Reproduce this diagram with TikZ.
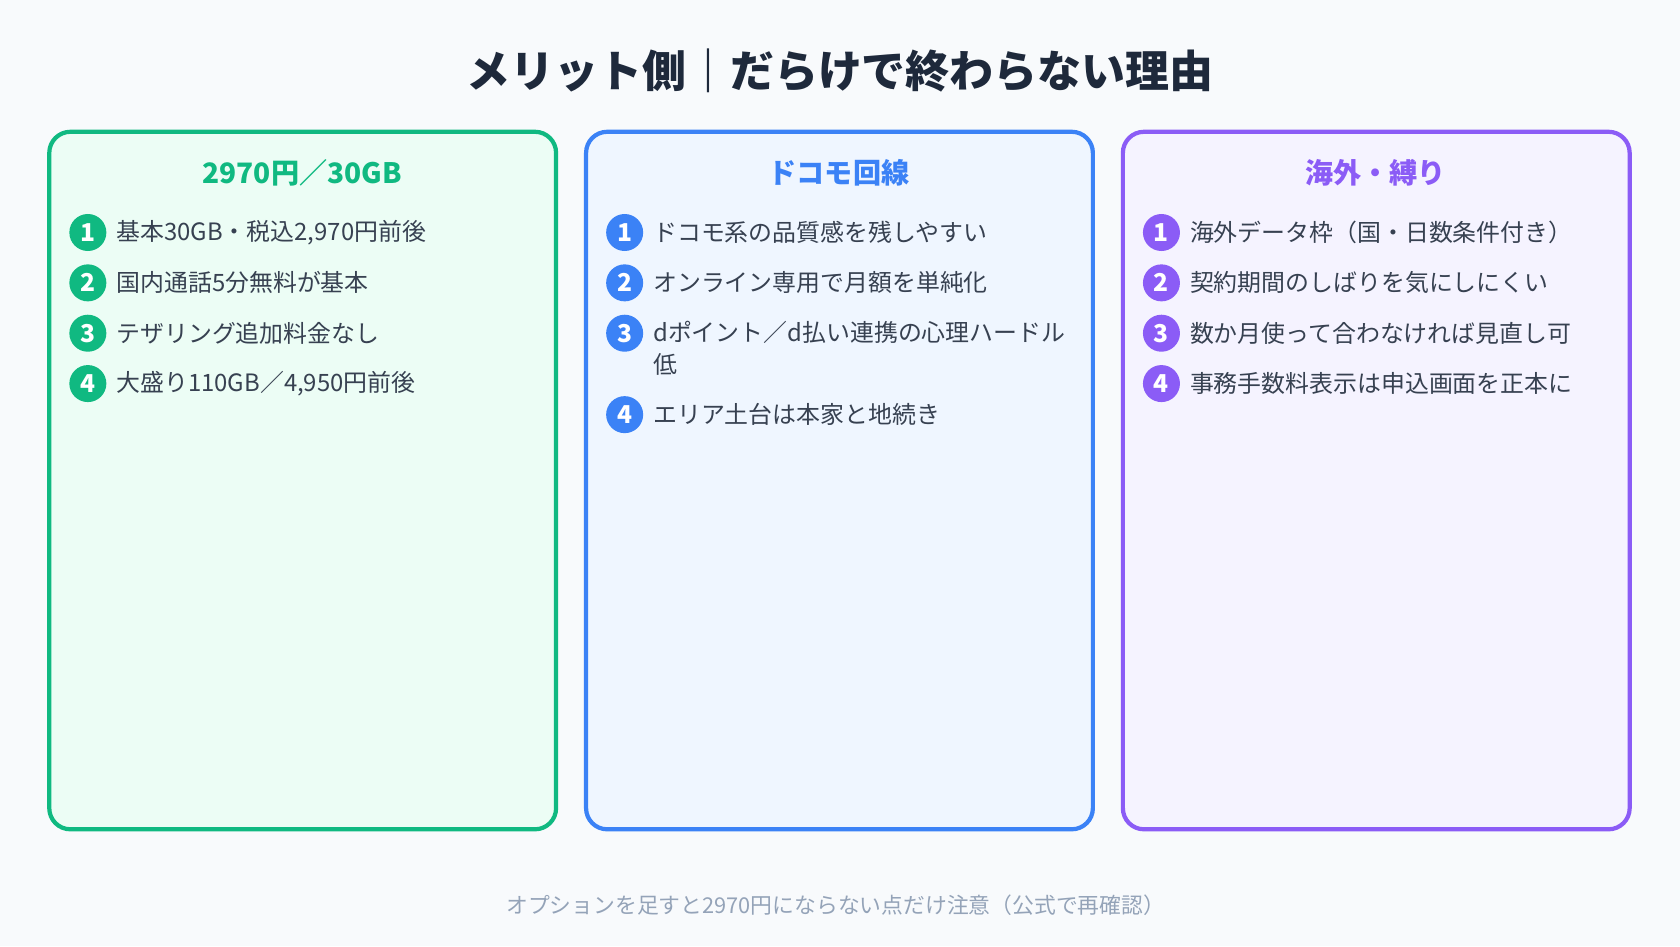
\documentclass[tikz,border=0pt]{standalone}
\usepackage{fontspec}
\setmainfont{Noto Sans CJK JP}
\usepackage{xcolor}
\usetikzlibrary{backgrounds,calc,positioning}
\definecolor{bgcol}{HTML}{F8FAFC}
\definecolor{titlecol}{HTML}{1E293B}
\definecolor{bodycol}{HTML}{374151}
\definecolor{notecol}{HTML}{94A3B8}
\definecolor{grn}{HTML}{10B981}\definecolor{grnfill}{HTML}{ECFDF5}
\definecolor{blu}{HTML}{3B82F6}\definecolor{blufill}{HTML}{EFF6FF}
\definecolor{pur}{HTML}{8B5CF6}\definecolor{purfill}{HTML}{F5F3FF}
\begin{document}
\begin{tikzpicture}[x=0.010714cm,y=-0.010714cm]

\tikzstyle{panel} = [rounded corners=6pt, line width=1.2pt]
\tikzstyle{head} = [font=\fontsize{8}{10}\selectfont\bfseries]
\tikzstyle{numdot} = [circle, minimum size=0.37cm, inner sep=0pt, text=white, font=\fontsize{7}{8}\selectfont\bfseries]
\tikzstyle{item} = [anchor=west, inner sep=0pt, text=bodycol, align=left, font=\fontsize{6.8}{9.2}\selectfont]

\fill[bgcol] (0,0) rectangle (1568,883);
\useasboundingbox (0,0) rectangle (1568,883);

\node (title) [text=titlecol, font=\fontsize{12.5}{14}\selectfont\bfseries] at (784,66) {メリット側｜だらけで終わらない理由};

% panels
\draw[panel, draw=grn, fill=grnfill] (46,123) rectangle (519,774);
\draw[panel, draw=blu, fill=blufill] (547,123) rectangle (1020,774);
\draw[panel, draw=pur, fill=purfill] (1048,123) rectangle (1521,774);

\node (h1) [head, text=grn] at (282,161) {2970円／30GB};
\node (h2) [head, text=blu] at (783,161) {ドコモ回線};
\node (h3) [head, text=pur] at (1284,161) {海外・縛り};

% items
\foreach \n/\y/\t in {1/217/{基本30GB・税込2,970円前後}, 2/264/{国内通話5分無料が基本},
  3/311/{テザリング追加料金なし}, 4/358/{大盛り110GB／4,950円前後}} {
  \node (ga\n) [numdot, fill=grn] at (82,\y) {\n};
  \node (gt\n) [item] at (108,\y) {\t};
}
\foreach \n/\d/\y/\t in {1/217/217/{ドコモ系の品質感を残しやすい}, 2/264/264/{オンライン専用で月額を単純化},
  3/311/325/{dポイント／d払い連携の心理ハードル\\低}, 4/387/387/{エリア土台は本家と地続き}} {
  \node (ba\n) [numdot, fill=blu] at (583,\d) {\n};
  \node (bt\n) [item] at (609,\y) {\t};
}
\foreach \n/\y/\t in {1/217/{海外データ枠（国・日数条件付き）}, 2/264/{契約期間のしばりを気にしにくい},
  3/311/{数か月使って合わなければ見直し可}, 4/358/{事務手数料表示は申込画面を正本に}} {
  \node (pa\n) [numdot, fill=pur] at (1084,\y) {\n};
  \node (pt\n) [item] at (1110,\y) {\t};
}

\node (note) [text=notecol, font=\fontsize{6.2}{8}\selectfont] at (780,845) {オプションを足すと2970円にならない点だけ注意（公式で再確認）};

\end{tikzpicture}
\end{document}
